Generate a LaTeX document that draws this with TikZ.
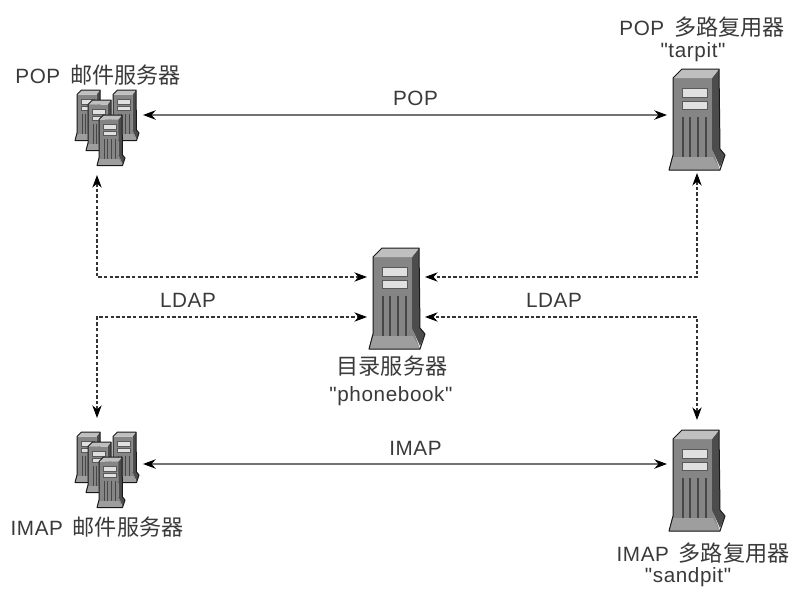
\documentclass[tikz,border=0pt]{standalone}
\usepackage{fontspec}
\setmainfont{Liberation Sans}[Ligatures=TeXOff,LetterSpace=3]
\newfontfamily\cjk{Noto Sans CJK SC}[Scale=1.07]
\usetikzlibrary{arrows.meta}
\definecolor{ink}{HTML}{3A3A3A}
\newcommand{\towerpic}[3]{%
\begin{scope}[shift={(#1,#2)},scale=#3]
 \fill[black!48] (4,9) -- (43,9) -- (43,79) -- (51,101) -- (0,101) -- (4,86) -- cycle;
 \fill[black!38] (3,88) -- (44,88) -- (51,101) -- (0,101) -- cycle;
 \fill[black!70] (43,9) -- (50,0) -- (51,80) -- (56,86) -- (51,98) -- (43,80) -- cycle;
 \fill[black!25] (4,9) -- (13,0) -- (50,0) -- (43,9) -- cycle;
 \fill[black!12] (13,19) rectangle (38,28);
 \fill[black!12] (13,32) rectangle (38,40);
 \draw[black!65,line width=.4pt] (13,19) rectangle (38,28) (13,32) rectangle (38,40);
 \foreach \sx in {13,20,28,36} \fill[black!72] (\sx,48) rectangle ++(2.4,40);
 \draw[black!90,line width=.75pt,line join=round]
   (4,86) -- (4,9) -- (13,0) -- (50,0) -- (51,80) -- (56,86) -- (51,101) -- (0,101) -- cycle;
\end{scope}}
\newcommand{\clusterpic}[2]{%
 \towerpic{#1}{#2}{.5}
 \towerpic{#1+36}{#2}{.5}
 \towerpic{#1+11}{#2+10}{.5}
 \towerpic{#1+22}{#2+25}{.5}}
\tikzset{
 hitbox/.style={inner sep=0pt,outer sep=0pt},
 lbl/.style={text=ink,inner sep=0pt,font=\fontsize{15.5pt}{17pt}\selectfont},
 mainlink/.style={draw=black!55,line width=1.5pt,{Stealth[length=9.5pt,width=7pt,black]}-{Stealth[length=9.5pt,width=7pt,black]}},
 dirlink/.style={draw=black!80,line width=.8pt,dash pattern=on 2.6pt off 1.6pt,{Stealth[length=9.5pt,width=7pt,black]}-{Stealth[length=9.5pt,width=7pt,black]}},
}
\begin{document}
\begin{tikzpicture}[x=.75pt,y=-.75pt]
\useasboundingbox (0,0) rectangle (790,593);
\fill[white] (0,0) rectangle (790,593);
% connector ends
\node[hitbox,minimum width=69pt,minimum height=90pt] (popmail) at (97,115) {};
\node[hitbox,minimum width=45pt,minimum height=87pt] (popmux) at (697,115) {};
\node[hitbox,minimum width=69pt,minimum height=69pt] (imapmail) at (97,464) {};
\node[hitbox,minimum width=45pt,minimum height=66pt] (imapmux) at (697,464) {};
\node[hitbox,minimum width=43.5pt,minimum height=30pt] (dir) at (396,297) {};
% drawings
\clusterpic{75}{90}
\towerpic{669}{69}{1}
\towerpic{369}{248}{1}
\clusterpic{75}{432}
\towerpic{669}{430}{1}
% links
\draw[mainlink] (popmail.east) -- node[lbl,above=6pt,pos=.52]{POP} (popmux.west);
\draw[mainlink] (imapmail.east) -- node[lbl,above=6pt,pos=.52]{IMAP} (imapmux.west);
\draw[dirlink] (popmail.south) |- (dir.north west);
\draw[dirlink] (imapmail.north) |- (dir.south west);
\draw[dirlink] (popmux.south) |- (dir.north east);
\draw[dirlink] (imapmux.north) |- (dir.south east);
% labels
\node[lbl] (t1) at (188,300) {LDAP};
\node[lbl] (t2) at (554,300) {LDAP};
\node[lbl] (t3) at (98,75) {POP\, {\cjk 邮件服务器}};
\node[lbl] (t4) at (702,27) {POP\, {\cjk 多路复用器}};
\node[lbl] (t5) at (693,52) {"tarpit"};
\node[lbl] (t6) at (392,366) {\cjk 目录服务器};
\node[lbl] (t7) at (391,396) {"phonebook"};
\node[lbl] (t8) at (97,527) {IMAP\, {\cjk 邮件服务器}};
\node[lbl] (t9) at (703,553) {IMAP\, {\cjk 多路复用器}};
\node[lbl] (t10) at (688,577) {"sandpit"};
\end{tikzpicture}
\end{document}
